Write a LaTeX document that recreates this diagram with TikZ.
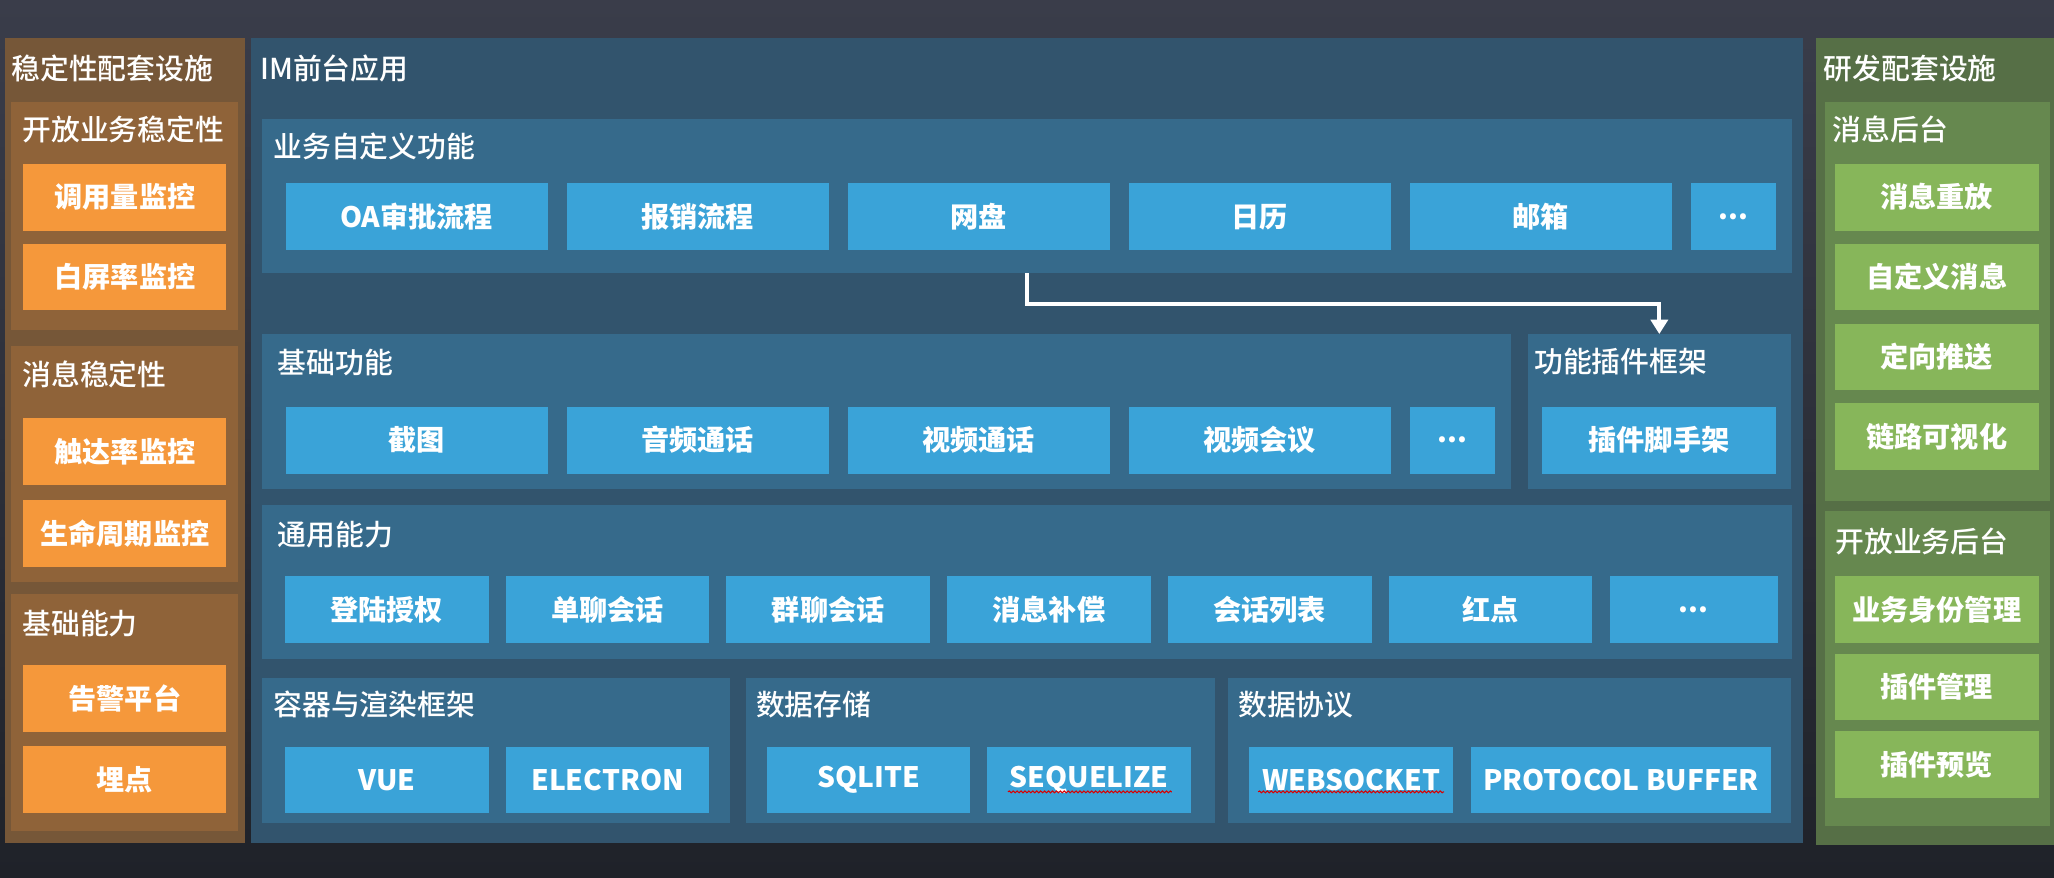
\documentclass[tikz,border=0pt]{standalone}
\usepackage{fontspec}
\setmainfont{Noto Sans CJK SC}
\newfontfamily\mediumcjk{Noto Sans CJK SC Medium}
\usetikzlibrary{positioning,arrows.meta,decorations.pathmorphing}

\definecolor{bgtop}{HTML}{3A3D4A}
\definecolor{bgbottom}{HTML}{1F2229}
\definecolor{mainout}{HTML}{32546D}
\definecolor{mainin}{HTML}{366A8B}
\definecolor{tileblue}{HTML}{3AA3D8}
\definecolor{brownout}{HTML}{765738}
\definecolor{brownin}{HTML}{8F6339}
\definecolor{orangebox}{HTML}{F5983B}
\definecolor{greenout}{HTML}{566F46}
\definecolor{greenin}{HTML}{66884F}
\definecolor{greenbox}{HTML}{87B65A}

\newcommand{\headfont}{\mediumcjk\fontsize{22}{26}\selectfont}
\newcommand{\tilefont}{\bfseries\fontsize{21.5}{26}\selectfont}

\begin{document}
\begin{tikzpicture}[x=1pt, y=-1pt, on grid, node distance=214.5pt,
  panel/.style={fill=#1, anchor=north west, inner sep=0pt},
  head/.style={text=white, font=\headfont, anchor=west, inner sep=0pt},
  tile/.style={fill=tileblue, text=white, font=\tilefont, minimum width=200pt,
    minimum height=51pt, inner sep=0pt},
  smalltile/.style={tile, minimum width=155.5pt},
  orangetile/.style={tile, fill=orangebox, minimum width=155pt},
  greentile/.style={tile, fill=greenbox, minimum width=156pt},
  flow/.style={draw=white, line width=3pt, -{Triangle[width=13pt,length=11pt]}},
  spell/.style={draw=red!85!black, line width=0.8pt, decorate,
    decoration={snake, amplitude=0.7pt, segment length=3pt}}]
\useasboundingbox (0,0) rectangle (1568,670);
\fill [top color=bgtop, bottom color=bgbottom] (0,0) rectangle (1568,670);

% frames
\node [panel=brownout, minimum width=183.6pt, minimum height=614pt] (stab) at (3.4,29) {};
\node [panel=mainout, minimum width=1184.4pt, minimum height=614pt] (im) at (191.6,29) {};
\node [panel=greenout, minimum width=182pt, minimum height=616pt] (dev) at (1386,29) {};

\node [panel=brownin, minimum width=173pt, minimum height=174pt] (openstab) at (8.5,78) {};
\node [panel=brownin, minimum width=173pt, minimum height=180pt] (msgstab) at (8.5,264) {};
\node [panel=brownin, minimum width=173pt, minimum height=181pt] (baseab) at (8.5,453) {};

\node [panel=mainin, minimum width=1168pt, minimum height=118pt] (custom) at (200,90.5) {};
\node [panel=mainin, minimum width=953pt, minimum height=118pt] (basic) at (200,255) {};
\node [panel=mainin, minimum width=201pt, minimum height=118pt] (plugin) at (1166,255) {};
\node [panel=mainin, minimum width=1168pt, minimum height=118pt] (common) at (200,385) {};
\node [panel=mainin, minimum width=357pt, minimum height=111pt] (container) at (200,517) {};
\node [panel=mainin, minimum width=358pt, minimum height=111pt] (storage) at (569,517) {};
\node [panel=mainin, minimum width=429.4pt, minimum height=111pt] (protocol) at (937.6,517) {};

\node [panel=greenin, minimum width=172pt, minimum height=304pt] (msgback) at (1393,78) {};
\node [panel=greenin, minimum width=172pt, minimum height=240pt] (openback) at (1393,390) {};

% titles
\node [head] (t_stab) at (8.5,52) {稳定性配套设施};
\node [head] (t_openstab) at (17,99) {开放业务稳定性};
\node [head] (t_msgstab) at (17,286) {消息稳定性};
\node [head] (t_baseab) at (17,476) {基础能力};
\node [head] (t_im) at (198.5,52) {IM前台应用};
\node [head] (t_custom) at (208.5,112) {业务自定义功能};
\node [head] (t_basic) at (212,277) {基础功能};
\node [head] (t_plugin) at (1171,276) {功能插件框架};
\node [head] (t_common) at (212,408) {通用能力};
\node [head] (t_container) at (208.5,538) {容器与渲染框架};
\node [head] (t_storage) at (577,538) {数据存储};
\node [head] (t_protocol) at (945,538) {数据协议};
\node [head] (t_dev) at (1392,52) {研发配套设施};
\node [head] (t_msgback) at (1399,99) {消息后台};
\node [head] (t_openback) at (1401,413.5) {开放业务后台};

% left column
\node [orangetile] (calls) at (95.4,150.5) {调用量监控};
\node [orangetile] (blank) [below = 61pt of calls] {白屏率监控};
\node [orangetile] (reach) at (95.4,344.5) {触达率监控};
\node [orangetile] (life) [below = 62.5pt of reach] {生命周期监控};
\node [orangetile] (alarm) at (95.4,533.5) {告警平台};
\node [orangetile] (track) [below = 61.5pt of alarm] {埋点};

% business functions
\node [tile] (oa) at (318,165.5) {OA审批流程};
\node [tile] (reimb) [right = of oa] {报销流程};
\node [tile] (disk) [right = of reimb] {网盘};
\node [tile] (cal) [right = of disk] {日历};
\node [tile] (mail) [right = of cal] {邮箱};
\node [tile, minimum width=65pt] (more_a) at (1323.5,165.5) {...};

% basic functions
\node [tile] (shot) at (318,336) {截图};
\node [tile] (audio) [right = of shot] {音频通话};
\node [tile] (video) [right = of audio] {视频通话};
\node [tile] (meet) [right = of video] {视频会议};
\node [tile, minimum width=65pt] (more_b) at (1108.5,336) {...};
\node [tile, minimum width=179pt] (scaffold) at (1266.5,336) {插件脚手架};

% common abilities
\node [smalltile] (login) at (295.25,465.5) {登陆授权};
\node [smalltile] (single) [right = 168.5pt of login] {单聊会话};
\node [smalltile] (group) [right = 168.5pt of single] {群聊会话};
\node [smalltile] (compen) [right = 168.5pt of group] {消息补偿};
\node [smalltile] (convlist) [right = 168.5pt of compen] {会话列表};
\node [smalltile] (reddot) [right = 168.5pt of convlist] {红点};
\node [tile, minimum width=128pt] (more_c) at (1293,465.5) {...};

% bottom layer
\node [smalltile] (vue) at (295.25,595.5) {VUE};
\node [smalltile] (electron) [right = 168.5pt of vue] {ELECTRON};
\node [smalltile] (sqlite) at (663,595.5) {SQLITE};
\node [smalltile] (seq) [right = 168.5pt of sqlite] {SEQUELIZE};
\node [smalltile] (ws) at (1031.5,595.5) {WEBSOCKET};
\node [tile, minimum width=229pt] (pb) at (1237.5,595.5) {PROTOCOL BUFFER};

% right column
\node [greentile] (replay) at (1478.5,150.5) {消息重放};
\node [greentile] (custmsg) [below = 61pt of replay] {自定义消息};
\node [greentile] (push) [below = 61pt of custmsg] {定向推送};
\node [greentile] (trace) [below = 61pt of push] {链路可视化};
\node [greentile] (ident) at (1478.5,465.5) {业务身份管理};
\node [greentile] (plugmgr) [below = 59pt of ident] {插件管理};
\node [greentile] (preview) [below = 59pt of plugmgr] {插件预览};

\coordinate (tap) at (784,208.6);
\draw [flow] (tap) -- ++(0,23.5) -| (plugin.north);

\draw [spell] ([xshift=-62pt,yshift=-9pt]seq.center) -- ++(125pt,0);
\draw [spell] ([xshift=-71pt,yshift=-9pt]ws.center) -- ++(142pt,0);
\end{tikzpicture}
\end{document}
